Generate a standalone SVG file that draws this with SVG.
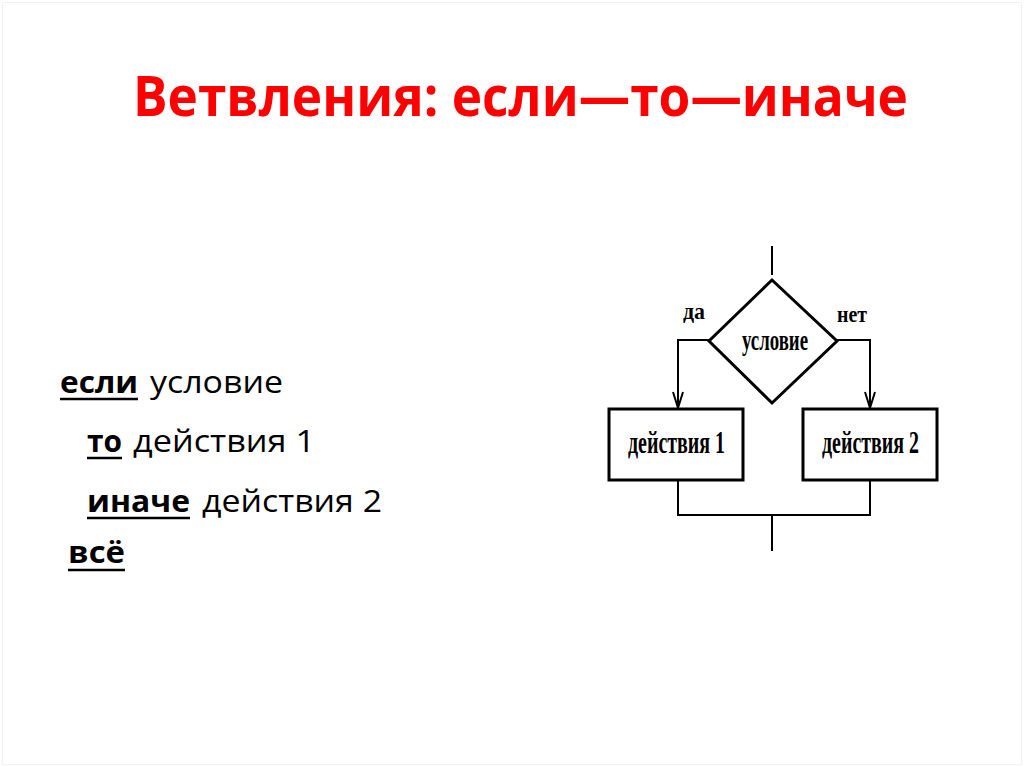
<svg xmlns="http://www.w3.org/2000/svg" width="1024" height="767" viewBox="0 0 1024 767">
  <style>
    .title { font-family: "Open Sans", "Liberation Sans", sans-serif; font-weight: bold; fill: #ff0000; }
    .body { font-family: "Open Sans", "Liberation Sans", sans-serif; font-size: 31px; fill: #000; }
    .kw { font-weight: bold; }
    .ul { stroke: #000; stroke-width: 2.5; }
    .fc { font-family: "Liberation Serif", "DejaVu Serif", serif; fill: #000; }
    .shape { fill: #fff; stroke: #000; stroke-width: 3; }
    .conn { fill: none; stroke: #000; stroke-width: 2; }
  </style>
  <rect x="0" y="0" width="1024" height="767" fill="#fff"/>
  <rect x="2.5" y="2.5" width="1019" height="762" fill="none" stroke="#f2f2f2" stroke-width="1"/>

  <g id="title">
    <text class="title" x="133" y="116" font-size="55" textLength="775" lengthAdjust="spacingAndGlyphs">Ветвления: если—то—иначе</text>
  </g>

  <g id="pseudocode">
    <text class="body kw" x="60" y="393" textLength="78" lengthAdjust="spacingAndGlyphs">если</text>
    <line class="ul" x1="60" y1="399" x2="138" y2="399"/>
    <text class="body" x="150" y="393" textLength="133" lengthAdjust="spacingAndGlyphs">условие</text>

    <text class="body kw" x="87" y="452" textLength="35" lengthAdjust="spacingAndGlyphs">то</text>
    <line class="ul" x1="87" y1="458" x2="122" y2="458"/>
    <text class="body" x="133" y="452" textLength="182" lengthAdjust="spacingAndGlyphs">действия 1</text>

    <text class="body kw" x="87" y="512" textLength="103" lengthAdjust="spacingAndGlyphs">иначе</text>
    <line class="ul" x1="87" y1="518" x2="190" y2="518"/>
    <text class="body" x="202" y="512" textLength="180" lengthAdjust="spacingAndGlyphs">действия 2</text>

    <text class="body kw" x="68" y="563" textLength="57" lengthAdjust="spacingAndGlyphs">всё</text>
    <line class="ul" x1="68" y1="570" x2="125" y2="570"/>
  </g>

  <g id="connectors">
    <line class="conn" x1="772" y1="246" x2="772" y2="275"/>
    <polyline class="conn" points="710,340 678,340 678,409"/>
    <polyline class="conn" points="673,392 678,408 683,392"/>
    <polyline class="conn" points="837,340 870,340 870,409"/>
    <polyline class="conn" points="865,392 870,408 875,392"/>
    <polyline class="conn" points="678,480 678,515 870,515 870,480"/>
    <line class="conn" x1="772" y1="515" x2="772" y2="551" stroke-width="3"/>
    <text class="fc" x="683" y="319" font-size="24" font-weight="bold" textLength="22" lengthAdjust="spacingAndGlyphs">да</text>
    <text class="fc" x="837" y="322" font-size="24" font-weight="bold" textLength="30" lengthAdjust="spacingAndGlyphs">нет</text>
  </g>

  <g id="condition">
    <polygon class="shape" points="772,280 837,341 772,403 709,341"/>
    <text class="fc" x="775" y="350" font-size="30" font-weight="bold" text-anchor="middle" textLength="66" lengthAdjust="spacingAndGlyphs">условие</text>
  </g>

  <g id="action1">
    <rect class="shape" x="609" y="409" width="134" height="71"/>
    <text class="fc" x="628" y="453" font-size="32" font-weight="bold" textLength="97" lengthAdjust="spacingAndGlyphs">действия 1</text>
  </g>

  <g id="action2">
    <rect class="shape" x="803" y="409" width="134" height="71"/>
    <text class="fc" x="822" y="453" font-size="32" font-weight="bold" textLength="97" lengthAdjust="spacingAndGlyphs">действия 2</text>
  </g>
</svg>
